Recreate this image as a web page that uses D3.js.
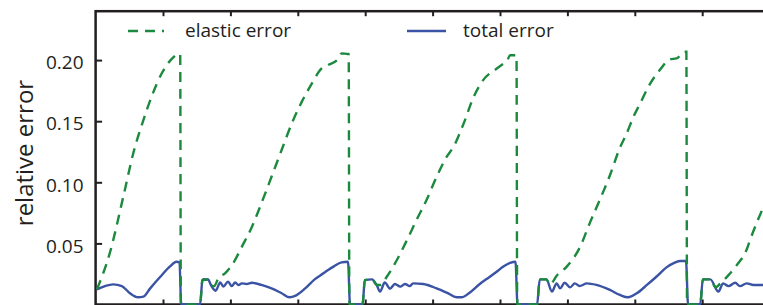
<!DOCTYPE html>
<html>
<head>
<meta charset="utf-8">
<script src="https://cdn.jsdelivr.net/npm/d3@7"></script>
<style>
  body { margin: 0; background: #fff; }
  svg { display: block; font-family: 'Open Sans', sans-serif; }
</style>
</head>
<body>
<svg id="chart" width="763" height="305"></svg>
<script>
// values; x is in tick units, y is relative error
const xTicks = [1, 2, 3, 4, 5, 6, 7, 8, 9]
const yTicks = [0.05, 0.10, 0.15, 0.20]
const seriesNames = ['elastic error', 'total error']
const yLabel = 'relative error'

const elasticError = [
  [0.02, 0.0124], [0.21, 0.042], [0.41, 0.088], [0.56, 0.124], [0.71, 0.151], [0.83, 0.170],
  [0.98, 0.189], [1.13, 0.201], [1.23, 0.205], [1.255, 0.205], [1.265, 0],
  [1.55, 0], [1.585, 0.020], [1.67, 0.0205], [1.71, 0.016], [1.76, 0.015], [1.82, 0.0214],
  [1.92, 0.0255], [2.04, 0.0337], [2.17, 0.0473], [2.32, 0.0636], [2.46, 0.0828], [2.61, 0.1045],
  [2.76, 0.1264], [2.91, 0.148], [3.06, 0.166], [3.21, 0.181], [3.35, 0.193], [3.45, 0.196],
  [3.60, 0.201], [3.65, 0.2055], [3.74, 0.205], [3.755, 0.205], [3.765, 0],
  [3.96, 0], [3.995, 0.020], [4.10, 0.0206], [4.17, 0.016], [4.23, 0.016], [4.32, 0.0227],
  [4.47, 0.0364], [4.62, 0.0528], [4.76, 0.069], [4.91, 0.0855], [5.06, 0.1045], [5.21, 0.121],
  [5.31, 0.129], [5.46, 0.148], [5.61, 0.170], [5.75, 0.1836], [5.95, 0.193], [6.05, 0.197],
  [6.10, 0.1986], [6.15, 0.204], [6.245, 0.204], [6.255, 0],
  [6.55, 0], [6.59, 0.0206], [6.69, 0.0206], [6.74, 0.016], [6.80, 0.020], [6.83, 0.0227],
  [6.99, 0.031], [7.19, 0.0473], [7.33, 0.0664], [7.48, 0.0855], [7.64, 0.107], [7.77, 0.127],
  [7.88, 0.140], [7.98, 0.1536], [8.08, 0.1646], [8.23, 0.181], [8.37, 0.1918], [8.52, 0.2006],
  [8.62, 0.2014], [8.74, 0.2068], [8.765, 0.2068], [8.775, 0],
  [8.97, 0], [9.01, 0.0206], [9.12, 0.0206], [9.20, 0.014], [9.27, 0.0173], [9.39, 0.024],
  [9.51, 0.032], [9.66, 0.045], [9.71, 0.0528], [9.91, 0.080]
]

const totalError = [
  [0.02, 0.0124], [0.14, 0.0151], [0.26, 0.0165], [0.39, 0.0151], [0.51, 0.0092], [0.63, 0.0059],
  [0.71, 0.0064], [0.81, 0.0132], [0.96, 0.0227], [1.10, 0.031], [1.20, 0.035], [1.245, 0.0345], [1.27, 0],
  [1.55, 0], [1.585, 0.020], [1.60, 0.0208], [1.67, 0.0205], [1.71, 0.016], [1.78, 0.0113], [1.85, 0.018],
  [1.895, 0.0146], [1.965, 0.0187], [2.02, 0.015], [2.07, 0.018], [2.12, 0.016], [2.17, 0.0173],
  [2.24, 0.0168], [2.32, 0.0178], [2.46, 0.016], [2.61, 0.0132], [2.76, 0.0092], [2.88, 0.0059],
  [2.96, 0.007], [3.11, 0.0132], [3.25, 0.0206], [3.38, 0.0255], [3.45, 0.0282], [3.53, 0.031],
  [3.65, 0.0345], [3.745, 0.035], [3.775, 0],
  [3.96, 0], [3.995, 0.020], [4.10, 0.0206], [4.17, 0.016], [4.22, 0.0105], [4.29, 0.018],
  [4.37, 0.013], [4.44, 0.0168], [4.52, 0.0146], [4.59, 0.0168], [4.66, 0.015], [4.71, 0.0173],
  [4.86, 0.0168], [5.06, 0.0132], [5.21, 0.0097], [5.36, 0.0059], [5.43, 0.0059], [5.55, 0.0097],
  [5.70, 0.0168], [5.85, 0.0227], [5.95, 0.0268], [6.05, 0.031], [6.15, 0.034], [6.23, 0.035], [6.26, 0],
  [6.55, 0], [6.59, 0.0206], [6.69, 0.0206], [6.77, 0.0105], [6.84, 0.0173], [6.89, 0.0132],
  [6.96, 0.0178], [7.04, 0.014], [7.11, 0.0173], [7.18, 0.0151], [7.29, 0.0173], [7.43, 0.016],
  [7.63, 0.0119], [7.78, 0.0078], [7.90, 0.0059], [8.03, 0.0092], [8.18, 0.016], [8.32, 0.0227],
  [8.47, 0.0304], [8.57, 0.0337], [8.67, 0.0356], [8.76, 0.0356], [8.79, 0],
  [8.97, 0], [9.01, 0.0206], [9.12, 0.0206], [9.24, 0.0105], [9.31, 0.0173], [9.39, 0.015],
  [9.49, 0.0178], [9.56, 0.015], [9.66, 0.0173], [9.76, 0.016], [9.91, 0.016]
]

const green = '#1b8a3f'
const blue = '#3a53a4'
const ink = '#231f20'

const svg = d3.select('#chart')

const x = d3.scaleLinear().domain([0, 10]).range([95.6, 769.6])
const y = d3.scaleLinear().domain([0, 0.24]).range([304.5, 11.2])

// frame (right side falls outside the window)
svg.append('rect')
  .attr('x', x(0))
  .attr('y', y(0.24))
  .attr('width', x(10) - x(0))
  .attr('height', y(0) - y(0.24))
  .attr('fill', 'none')
  .attr('stroke', ink)
  .attr('stroke-width', 2.5)

const yAxis = svg.append('g')
  .attr('transform', `translate(${x(0)},0)`)
  .call(d3.axisLeft(y).tickValues(yTicks).tickSizeInner(-6.5).tickSizeOuter(0)
    .tickPadding(12).tickFormat(d3.format('.2f')))

const topAxis = svg.append('g')
  .attr('transform', `translate(0,${y(0.24)})`)
  .call(d3.axisTop(x).tickValues(xTicks).tickSizeInner(-5).tickSizeOuter(0).tickFormat(''))

const bottomAxis = svg.append('g')
  .attr('transform', `translate(0,${y(0)})`)
  .call(d3.axisBottom(x).tickValues(xTicks).tickSizeInner(-5).tickSizeOuter(0).tickFormat(''))

for (const g of [yAxis, topAxis, bottomAxis]) {
  g.select('.domain').remove()
  g.selectAll('.tick line').attr('stroke', ink).attr('stroke-width', 2)
}

yAxis.selectAll('.tick text')
  .attr('font-family', 'Open Sans, sans-serif')
  .attr('font-size', 19)
  .attr('fill', ink)
  .attr('dy', '0.46em')

svg.append('text')
  .attr('transform', `translate(33,153) rotate(-90)`)
  .attr('text-anchor', 'middle')
  .attr('font-size', 24)
  .attr('fill', ink)
  .text(yLabel)

const line = d3.line()
  .x(d => x(d[0]))
  .y(d => y(d[1]))
  .curve(d3.curveMonotoneX)

svg.append('path')
  .datum(totalError)
  .attr('fill', 'none')
  .attr('stroke', blue)
  .attr('stroke-width', 2.4)
  .attr('stroke-linejoin', 'round')
  .attr('d', line)

svg.append('path')
  .datum(elasticError)
  .attr('fill', 'none')
  .attr('stroke', green)
  .attr('stroke-width', 2.4)
  .attr('stroke-dasharray', '10,7')
  .attr('d', line)

// legend
const legend = svg.append('g')
legend.append('line')
  .attr('x1', 128).attr('x2', 164).attr('y1', 31).attr('y2', 31)
  .attr('stroke', green).attr('stroke-width', 2.4).attr('stroke-dasharray', '10,7')
legend.append('text')
  .attr('x', 185).attr('y', 37)
  .attr('font-size', 19).attr('fill', ink)
  .text(seriesNames[0])
legend.append('line')
  .attr('x1', 407).attr('x2', 446).attr('y1', 31).attr('y2', 31)
  .attr('stroke', blue).attr('stroke-width', 2.6)
legend.append('text')
  .attr('x', 463).attr('y', 37)
  .attr('font-size', 19).attr('fill', ink)
  .text(seriesNames[1])
</script>
</body>
</html>
